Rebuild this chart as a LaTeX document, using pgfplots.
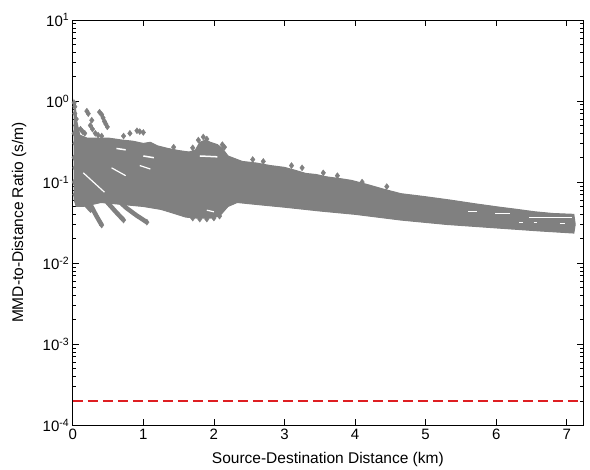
\documentclass[border=0pt]{standalone}
\usepackage{pgfplots}
\pgfplotsset{compat=1.18}
\usepackage{fontspec}
\setmainfont{Liberation Sans}
\definecolor{ptgray}{RGB}{128,128,128}
\definecolor{mred}{RGB}{222,30,34}
\begin{document}
\begin{tikzpicture}
\begin{axis}[
  scale only axis,
  width=510pt, height=405pt,
  ymode=log,
  xmin=0, xmax=7.23,
  ymin=1e-4, ymax=1e1,
  xtick={0,1,2,3,4,5,6,7},
  xticklabels={0,1,2,3,4,5,6,7},
  ytick={1e-4,1e-3,1e-2,1e-1,1e0,1e1},
  yticklabels={10\textsuperscript{-4},10\textsuperscript{-3},10\textsuperscript{-2},10\textsuperscript{-1},10\textsuperscript{0},10\textsuperscript{1}},
  tick align=inside,
  major tick length=6pt,
  minor tick length=3pt,
  axis line style={line width=0.8pt},
  every tick/.style={black, line width=0.6pt},
  ticklabel style={font=\fontsize{15}{17}\selectfont},
  label style={font=\fontsize{15.5}{18}\selectfont},
  xlabel={Source-Destination Distance (km)},
  ylabel={MMD-to-Distance Ratio (s/m)},
  xlabel style={at={(axis description cs:0.5,-0.084)}, anchor=center},
  ylabel style={at={(axis description cs:-0.105,0.5)}, anchor=center},
  clip=true,
]
% main dense band
\addplot[fill=ptgray, draw=ptgray, line width=1pt] coordinates {
(0.02,0.95) (0.04,0.8) (0.06,0.55) (0.1,0.38) (0.2,0.35) (0.35,0.35) (0.5,0.35)
(0.7,0.33) (0.85,0.32) (1.0,0.3) (1.1,0.31) (1.2,0.28) (1.35,0.26) (1.5,0.245) (1.65,0.235) (1.74,0.25)
(1.8,0.31) (1.88,0.33) (1.95,0.31) (2.05,0.29) (2.12,0.26) (2.2,0.21) (2.4,0.18)
(2.6,0.172) (2.8,0.16) (3.0,0.152) (3.15,0.14) (3.3,0.128) (3.45,0.124) (3.6,0.116)
(3.8,0.11) (3.95,0.105) (4.2,0.092) (4.4,0.082) (4.65,0.072) (5.0,0.066) (5.35,0.06)
(5.7,0.054) (6.05,0.049) (6.3,0.046) (6.55,0.043) (6.8,0.041) (7.1,0.040) (7.12,0.03)
(7.1,0.0235) (6.6,0.025) (6.05,0.027) (5.3,0.030) (4.65,0.034) (4.0,0.040) (3.5,0.044)
(3.0,0.049) (2.6,0.053) (2.33,0.056) (2.2,0.05) (2.08,0.038) (1.95,0.036) (1.75,0.036) (1.6,0.037)
(1.4,0.042) (1.25,0.046) (1.0,0.05) (0.7,0.053) (0.4,0.056) (0.15,0.05) (0.05,0.05)
(0.02,0.06)
} -- cycle;
% streaks of points below the band
\addplot[ptgray, line width=4.5pt] coordinates {(0.10,0.116) (0.18,0.075) (0.26,0.051) (0.33,0.039) (0.41,0.0295)};
\addplot[ptgray, line width=4.5pt] coordinates {(0.29,0.098) (0.40,0.072) (0.50,0.055) (0.61,0.043) (0.72,0.034)};
\addplot[ptgray, line width=4.5pt] coordinates {(0.48,0.080) (0.62,0.062) (0.76,0.048) (0.90,0.039) (1.05,0.032)};
\addplot[ptgray, line width=3.5pt] coordinates {(0.05,0.09) (0.12,0.065) (0.2,0.05) (0.27,0.043)};
% scattered points
\addplot[only marks, mark=diamond*, mark size=3pt, color=ptgray] coordinates {
(0.41,0.0295) (0.72,0.034) (1.05,0.032)
(0.02,0.95) (0.03,0.85) (0.03,0.7) (0.05,0.6) (0.04,0.5) (0.06,0.45) (0.02,0.4) (0.03,0.3) (0.02,0.2) (0.03,0.15) (0.02,0.1) (0.03,0.07)
(0.20,0.75) (0.22,0.70) (0.27,0.58) (0.25,0.50) (0.28,0.45) (0.32,0.40) (0.36,0.38) (0.41,0.37)
(0.38,0.73) (0.41,0.68) (0.43,0.62) (0.45,0.56) (0.47,0.52) (0.49,0.48)
(0.14,0.42) (0.17,0.40) (0.11,0.45)
(0.81,0.40) (0.91,0.43) (0.95,0.42) (1.0,0.41) (0.72,0.37)
(1.43,0.27) (1.7,0.265) (1.78,0.33) (1.85,0.36) (1.9,0.34) (2.12,0.29) (2.15,0.27)
(2.55,0.19) (2.7,0.18) (3.1,0.16) (3.25,0.15) (3.55,0.13) (3.75,0.12) (4.1,0.1) (4.45,0.088)
(1.70,0.036) (1.80,0.035) (1.90,0.035) (2.0,0.036) (2.08,0.038)
};
% white gaps inside the band
\addplot[white, line width=1.2pt] coordinates {(0.15,0.13) (0.45,0.075)};
\addplot[white, line width=1.2pt] coordinates {(0.55,0.15) (0.75,0.12)};
\addplot[white, line width=1.5pt] coordinates {(0.62,0.26) (0.75,0.25)};
\addplot[white, line width=1.5pt] coordinates {(1.0,0.21) (1.15,0.2)};
\addplot[white, line width=1.2pt] coordinates {(0.95,0.16) (1.1,0.145)};
\addplot[white, line width=1.5pt] coordinates {(1.8,0.21) (2.05,0.205)};
\addplot[white, line width=1.2pt] coordinates {(1.9,0.045) (2.0,0.043)};
\addplot[white, line width=1.2pt] coordinates {(6.47,0.0365) (7.08,0.0365)};
\addplot[white, line width=1pt] coordinates {(5.60,0.043) (5.73,0.043)};
\addplot[white, line width=1pt] coordinates {(5.98,0.041) (6.20,0.041)};
\addplot[white, line width=1pt] coordinates {(6.33,0.0314) (6.38,0.0314)};
\addplot[white, line width=1pt] coordinates {(6.53,0.0314) (6.58,0.0314)};
\addplot[white, line width=1pt] coordinates {(6.90,0.0310) (6.97,0.0310)};
% red reference line
\addplot[mred, line width=2.6pt, dash pattern=on 10pt off 5pt] coordinates {(0,2e-4) (7.23,2e-4)};
\end{axis}
\path ([shift={(-72.7pt,-44pt)}]current axis.south west) rectangle ([shift={(7pt,20pt)}]current axis.north east);
\end{tikzpicture}
\end{document}
